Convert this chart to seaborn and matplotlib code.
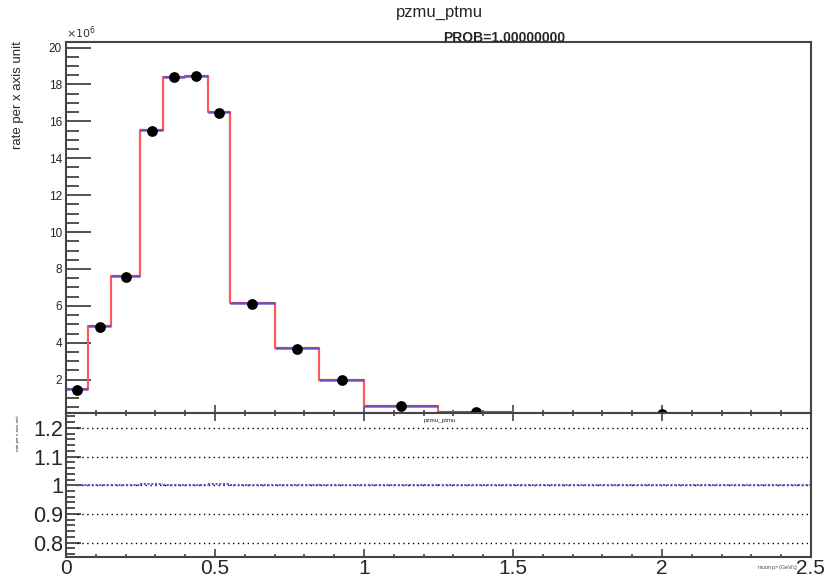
import numpy as np
import pandas as pd
import matplotlib
matplotlib.use("Agg")
import matplotlib.pyplot as plt
import seaborn as sns
from matplotlib.ticker import MultipleLocator

# ---- data (values in units of 1e6) ----
bin_edges = [0.0, 0.075, 0.15, 0.25, 0.325, 0.4, 0.475, 0.55, 0.7, 0.85, 1.0, 1.25, 1.5, 2.5]
mc_values = [1.52, 4.9, 7.6, 15.55, 18.4, 18.45, 16.5, 6.15, 3.7, 2.0, 0.55, 0.27, 0.12]
data_values = [1.45, 4.88, 7.58, 15.5, 18.38, 18.45, 16.48, 6.12, 3.68, 1.98, 0.55, 0.26, 0.14]
ratio_values = [1.0, 1.0, 1.0, 1.003, 1.0, 1.0, 1.003, 1.0, 1.0, 1.0, 1.0, 1.0, 1.0]
ratio_grid = [0.8, 0.9, 1.0, 1.1, 1.2]
top_yticks = [2, 4, 6, 8, 10, 12, 14, 16, 18, 20]
bottom_xticks = [0, 0.5, 1, 1.5, 2, 2.5]
bottom_xticklabels = ["0", "0.5", "1", "1.5", "2", "2.5"]
bottom_yticks = [0.8, 0.9, 1.0, 1.1, 1.2]
bottom_yticklabels = ["0.8", "0.9", "1", "1.1", "1.2"]

edges = np.array(bin_edges)
centers = 0.5 * (edges[:-1] + edges[1:])
df = pd.DataFrame({"x": centers, "mc": mc_values, "data": data_values, "ratio": ratio_values})

sns.set_style("ticks")
plt.rcParams["font.family"] = ["Liberation Sans", "DejaVu Sans"]

fig = plt.figure(figsize=(8.3, 5.81), dpi=100)
ax1 = fig.add_axes([0.0795, 0.2883, 0.8975, 0.6394])
ax2 = fig.add_axes([0.0795, 0.0413, 0.8975, 0.2470])

red = "#ff5a5a"
blue = "#4a4acc"
frame = "#444444"

# ---- top panel ----
sns.histplot(data=df, x="x", weights="mc", bins=list(bin_edges), element="step", fill=False,
             color=red, linewidth=1.6, ax=ax1)
ax1.hlines(df["mc"], edges[:-1], edges[1:], color=blue, linewidth=1.8, alpha=0.8, zorder=3)
sns.scatterplot(data=df, x="x", y="data", color="black", s=60, edgecolor="black",
                linewidth=0, ax=ax1, zorder=4)
ax1.set_xlim(0, 2.5)
ax1.set_ylim(0.17, 20.3)
ax1.set_xlabel("")
ax1.set_ylabel("")
ax1.set_yticks(top_yticks)
ax1.set_yticklabels([str(v) for v in top_yticks], fontsize=8.5)
ax1.yaxis.set_minor_locator(MultipleLocator(0.5))
ax1.xaxis.set_major_locator(MultipleLocator(0.5))
ax1.xaxis.set_minor_locator(MultipleLocator(0.1))
ax1.tick_params(axis="x", which="both", labelbottom=False, direction="in", color=frame)
ax1.tick_params(axis="x", which="major", length=6, width=1.2)
ax1.tick_params(axis="x", which="minor", length=2.5, width=1.2)
ax1.tick_params(axis="y", which="major", direction="in", length=18, width=1.3, pad=3, color=frame)
ax1.tick_params(axis="y", which="minor", direction="in", length=9, width=1.3, color=frame)
for s in ax1.spines.values():
    s.set_visible(True)
    s.set_color(frame)
    s.set_linewidth(1.5)

fig.text(0.0795, 0.930, r"$\times10^{6}$", fontsize=8, ha="left", va="bottom", color="#333333")
fig.text(0.022, 0.93, "rate per x axis unit", rotation=90, fontsize=9.5, ha="center", va="top")
fig.text(0.530, 0.978, "pzmu_ptmu", fontsize=12, ha="center", va="center")
fig.text(0.607, 0.935, "PROB=1.00000000", fontsize=10, fontweight="bold", ha="center", va="center")

# ---- bottom panel ----
ax2.hlines(ratio_grid, centers[0], edges[-1], colors="black", linestyles=(0, (1, 2.5)),
           linewidth=1.0, zorder=1)
ax2.hlines(df["ratio"], np.maximum(edges[:-1], centers[0]), edges[1:], colors=blue,
           linestyles=(0, (1, 0.8)), linewidth=1.5, alpha=0.9, zorder=2)
ax2.set_xlim(0, 2.5)
ax2.set_ylim(0.75, 1.25)
ax2.set_yticks(bottom_yticks)
ax2.set_yticklabels(bottom_yticklabels, fontsize=15.5)
ax2.set_xticks(bottom_xticks)
ax2.set_xticklabels(bottom_xticklabels, fontsize=15)
ax2.yaxis.set_minor_locator(MultipleLocator(0.02))
ax2.xaxis.set_minor_locator(MultipleLocator(0.1))
ax2.tick_params(axis="x", which="both", direction="in", top=True, color=frame, pad=1.5)
ax2.tick_params(axis="x", which="major", length=6, width=1.2)
ax2.tick_params(axis="x", which="minor", length=2.5, width=1.2)
ax2.tick_params(axis="y", which="major", direction="in", length=11, width=1.3, pad=2, color=frame)
ax2.tick_params(axis="y", which="minor", direction="in", length=6.5, width=1.3, color=frame)
for s in ax2.spines.values():
    s.set_visible(True)
    s.set_color(frame)
    s.set_linewidth(1.5)

fig.text(0.530, 0.276, "pzmu_ptmu", fontsize=4.5, ha="center", va="center")
fig.text(0.022, 0.285, "rate per x axis unit", rotation=90, fontsize=3.2, ha="center", va="top")
fig.text(0.937, 0.024, r"muon p$_T$ (GeV/c)", fontsize=3.8, ha="center", va="center", color="#444444")

fig.savefig("out.png", dpi=100)
